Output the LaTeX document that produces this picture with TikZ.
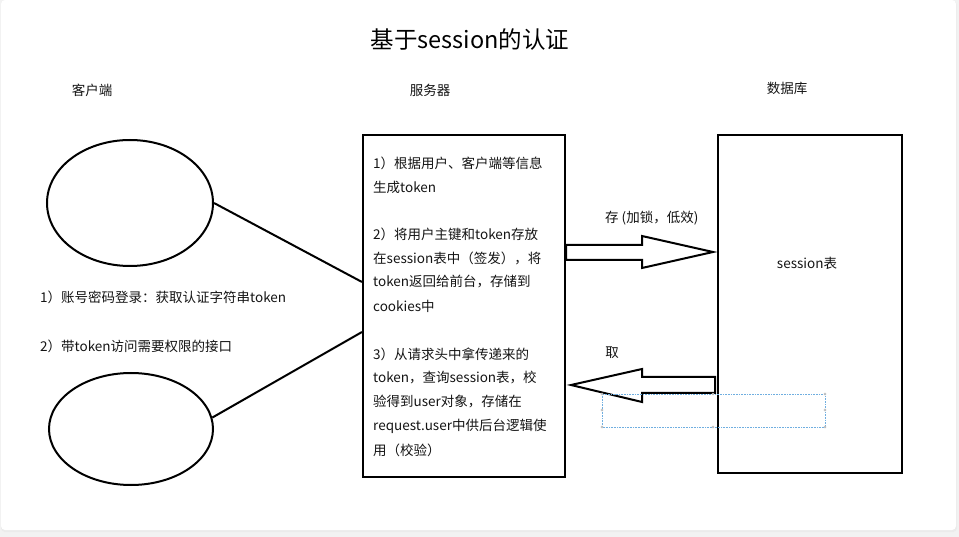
\documentclass[tikz,border=0pt]{standalone}
\usepackage{fontspec}
\setmainfont{Noto Sans CJK SC}
\usetikzlibrary{shapes.geometric}
\definecolor{selblue}{HTML}{6FAEE0}
\begin{document}
\begin{tikzpicture}[x=1pt,y=-1pt,
  thick line/.style={line width=2pt},
  txt/.style={font=\fontsize{13.5}{16}\selectfont, inner sep=0pt, text=black!92},
  boxtxt/.style={txt, anchor=west},
  oval/.style={ellipse, draw, line width=2pt, inner sep=0pt},
  handle/.style={draw=gray!70, fill=white, line width=0.3pt, minimum size=2.2pt, inner sep=0pt, circle}]
\useasboundingbox (0,0) rectangle (959,537);
\fill[black!5] (0,0) rectangle (959,537);
\fill[black!8, rounded corners=4pt] (1,1) rectangle (957,532);
\fill[white, rounded corners=4pt] (1,0) rectangle (956,530);

% title and headers
\node[font=\fontsize{23.5}{26}\selectfont, inner sep=0pt] (title) at (470,40) {基于session的认证};
\node[txt] (hclient) at (92,90) {客户端};
\node[txt] (hserver) at (430,90) {服务器};
\node[txt] (hdb) at (787,88) {数据库};

% client ovals
\node[oval, minimum width=166pt, minimum height=126pt] (c1) at (130,203) {};
\node[oval, minimum width=164pt, minimum height=112pt] (c2) at (131,429) {};

\node[txt, anchor=west] (l1) at (40,297) {1）账号密码登录：获取认证字符串token};
\node[txt, anchor=west] (l2) at (40,346) {2）带token访问需要权限的接口};

% server box
\node[draw, line width=2pt, minimum width=202pt, minimum height=342pt, inner sep=0pt] (server) at (464,306) {};
\node[boxtxt] (s1) at (373,163) {1）根据用户、客户端等信息};
\node[boxtxt] (s2) at (373,187) {生成token};
\node[boxtxt] (s3) at (373,234) {2）将用户主键和token存放};
\node[boxtxt] (s4) at (373,258) {在session表中（签发），将};
\node[boxtxt] (s5) at (373,282) {token返回给前台，存储到};
\node[boxtxt] (s6) at (373,306) {cookies中};
\node[boxtxt] (s7) at (373,354) {3）从请求头中拿传递来的};
\node[boxtxt] (s8) at (373,378) {token，查询session表，校};
\node[boxtxt] (s9) at (373,402) {验得到user对象，存储在};
\node[boxtxt] (s10) at (373,426) {request.user中供后台逻辑使};
\node[boxtxt] (s11) at (373,450) {用（校验）};

% database box
\node[draw, line width=2pt, minimum width=184pt, minimum height=338pt, inner sep=0pt] (db) at (810,304) {};
\node[txt] (tbl) at (807,263) {session表};

% connectors client -> server
\draw[thick line] (c1.east) -- (server.west |- 0,282);
\draw[thick line] (c2.8) -- (server.west |- 0,332);

% block arrows
\node[txt, anchor=west] (lstore) at (605,218) {存 (加锁，低效)};
\draw[thick line, fill=white, line join=miter] (server.east |- 0,245) -- (642,245) -- (642,236) -- (713,252) -- (642,268) -- (642,260) -- (server.east |- 0,260) -- cycle;
\node[txt] (lfetch) at (612,353) {取};
\draw[thick line, fill=white, line join=miter] (715,377) -- (642,377) -- (642,369) -- (571,385) -- (642,402) -- (642,393) -- (715,393) -- cycle;

% selection frame
\draw[selblue, line width=0.6pt, densely dotted] (602,394) rectangle (825,427);
\foreach \p [count=\i] in {(602,394),(713,394),(825,394),(602,410),(825,410),(602,427),(713,427),(825,427)}
  \node[handle] (h\i) at \p {};
\end{tikzpicture}
\end{document}
